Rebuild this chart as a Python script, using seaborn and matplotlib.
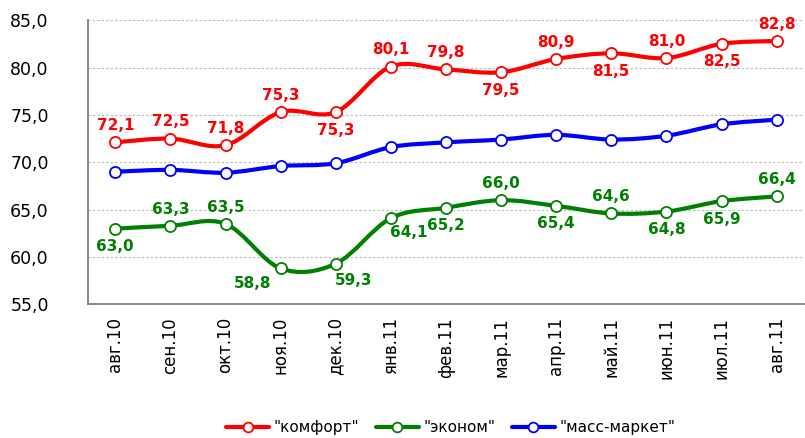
import numpy as np
import pandas as pd
import matplotlib
matplotlib.use("Agg")
import matplotlib.pyplot as plt
from matplotlib.path import Path
from matplotlib.patches import PathPatch
from matplotlib.lines import Line2D
from matplotlib.ticker import FuncFormatter, FixedLocator
import seaborn as sns

# ── Data ───────────────────────────────────────────────────────────────────
months = ["авг.10", "сен.10", "окт.10", "ноя.10", "дек.10", "янв.11", "фев.11",
          "мар.11", "апр.11", "май.11", "июн.11", "июл.11", "авг.11"]
komfort = [72.1, 72.5, 71.8, 75.3, 75.3, 80.1, 79.8, 79.5, 80.9, 81.5, 81.0, 82.5, 82.8]
ekonom = [63.0, 63.3, 63.5, 58.8, 59.3, 64.1, 65.2, 66.0, 65.4, 64.6, 64.8, 65.9, 66.4]
mass_market = [69.0, 69.2, 68.9, 69.6, 69.9, 71.6, 72.1, 72.4, 72.9, 72.4, 72.8, 74.0, 74.5]
series_names = ['"комфорт"', '"эконом"', '"масс-маркет"']

# label placement: offsets in points (dx, dy)
UP, DOWN = (0, 12), (0, -13)
komfort_pos = [UP, UP, UP, UP, DOWN, UP, UP, DOWN, UP, DOWN, UP, DOWN, UP]
ekonom_pos = [DOWN, UP, UP, (-20, -11), (13, -12), (13, -10), DOWN, UP, DOWN, UP, DOWN, DOWN, UP]

colors = {series_names[0]: "#ff0000", series_names[1]: "#008000", series_names[2]: "#0000ff"}

x = np.arange(len(months))
df = pd.DataFrame({
    "x": np.tile(x, 3),
    "value": komfort + ekonom + mass_market,
    "series": np.repeat(series_names, len(months)),
})

sns.set_style("white")
plt.rcParams["font.family"] = ["DejaVu Sans"]
plt.rcParams["text.color"] = "black"
plt.rcParams["xtick.labelcolor"] = "black"
plt.rcParams["ytick.labelcolor"] = "black"

fig = plt.figure(figsize=(8.05, 4.38), dpi=100)
ax = fig.add_axes([0.109, 0.305, 0.89, 0.649])


def smooth_path(xs, ys):
    # Excel-like smoothed line: Catmull-Rom converted to cubic Bezier
    pts = np.column_stack([xs, ys]).astype(float)
    ext = np.vstack([pts[0], pts, pts[-1]])
    verts = [pts[0]]
    codes = [Path.MOVETO]
    for i in range(len(pts) - 1):
        p0, p1, p2, p3 = ext[i], ext[i + 1], ext[i + 2], ext[i + 3]
        verts += [p1 + (p2 - p0) / 6, p2 - (p3 - p1) / 6, p2]
        codes += [Path.CURVE4] * 3
    return Path(verts, codes)


for name, vals in zip(series_names, [komfort, ekonom, mass_market]):
    patch = PathPatch(smooth_path(x, vals), facecolor="none", edgecolor=colors[name],
                      lw=3.0, capstyle="round", joinstyle="round", zorder=3)
    ax.add_patch(patch)

sns.lineplot(data=df, x="x", y="value", hue="series", palette=colors, ax=ax,
             linestyle="", marker="o", markersize=8, markerfacecolor="white",
             markeredgewidth=1.3, legend=False, zorder=4)
for line in ax.lines:
    line.set_markeredgecolor(line.get_color())

# data labels
for vals, pos, col in [(komfort, komfort_pos, "#ff0000"), (ekonom, ekonom_pos, "#008000")]:
    for xi, v, (dx, dy) in zip(x, vals, pos):
        ax.annotate(f"{v:.1f}".replace(".", ","), (xi, v), xytext=(dx, dy),
                    textcoords="offset points", ha="center", va="center",
                    fontsize=11, fontweight="bold", color=col, zorder=5)

ax.set_xlim(-0.5, len(months) - 0.5)
ax.set_ylim(55, 85)
ax.set_yticks(np.arange(55, 86, 5))
ax.yaxis.set_major_formatter(FuncFormatter(lambda v, p: f"{v:.1f}".replace(".", ",")))
ax.set_xticks(x)
ax.set_xticklabels(months, rotation=90, fontsize=12)
ax.xaxis.set_minor_locator(FixedLocator(np.arange(-0.5, len(months), 1.0)))
ax.tick_params(axis="x", which="major", length=0, pad=9)
ax.tick_params(axis="x", which="minor", length=6, width=1, color="#808080", direction="out")
ax.tick_params(axis="y", length=5, width=1, color="#808080", direction="out", pad=23, labelsize=12.5)
ax.set_xlabel("")
ax.set_ylabel("")

for v in np.arange(60, 86, 5):
    ax.axhline(v, color="#b8b8b8", lw=0.8, ls=(0, (2, 2)), zorder=1)

for s in ["top", "right"]:
    ax.spines[s].set_visible(False)
for s in ["left", "bottom"]:
    ax.spines[s].set_color("#808080")
    ax.spines[s].set_linewidth(1.3)

handles = [Line2D([0], [0], color=colors[n], lw=3.0, marker="o", markersize=7,
                  markerfacecolor="white", markeredgecolor=colors[n], markeredgewidth=1.3)
           for n in series_names]
fig.legend(handles, series_names, loc="center", bbox_to_anchor=(0.56, 0.023), ncol=3,
           frameon=False, fontsize=11, handlelength=2.8, columnspacing=1.1, handletextpad=0.3)

fig.savefig("out.png", dpi=100, facecolor="white")
plt.close(fig)
